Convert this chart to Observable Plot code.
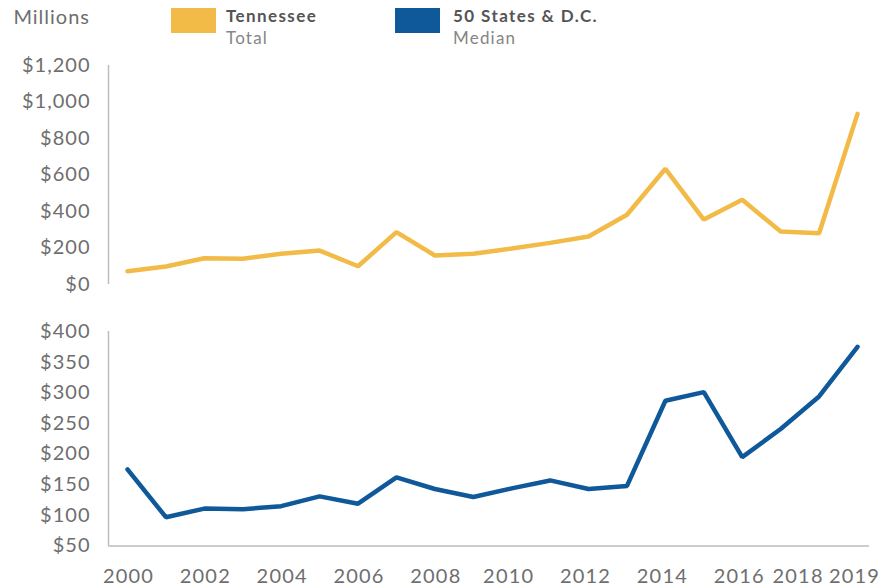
<!DOCTYPE html>
<html><head><meta charset="utf-8">
<script src="https://cdn.jsdelivr.net/npm/d3@7"></script>
<script src="https://cdn.jsdelivr.net/npm/@observablehq/plot@0.6"></script>
<style>
body{margin:0;background:#fff;font-family:Lato,"Open Sans",sans-serif;}
#wrap{width:891px;height:586px;position:relative;overflow:hidden;background:#fff}
#head{position:relative;height:50px}
.unit{position:absolute;right:801px;top:4px;font-size:20px;color:#6e6e6e;letter-spacing:1px;font-weight:400}
.sw{position:absolute;top:8px;width:45px;height:25px}
.lt{position:absolute;top:5px;font-size:17px;line-height:22px;color:#858585;letter-spacing:1.2px;font-weight:400}
.lt b{color:#555;font-weight:700;letter-spacing:1.4px}
svg{display:block}
</style></head><body>
<div id="wrap">
<div id="head"><div class="unit">Millions</div></div>
<div id="top"></div><div id="bot"></div>
</div>
<script>
const years = [2000,2001,2002,2003,2004,2005,2006,2007,2008,2009,2010,2011,2012,2013,2014,2015,2016,2017,2018,2019];
const tennessee = [73,99,144,141,168,186,100,287,159,168,197,228,263,382,634,356,464,290,281,935];
const median = [175,97,111,110,115,131,119,162,143,130,144,157,143,148,287,301,195,241,294,375];
const seriesNames = ["Tennessee","50 States & D.C."];
const seriesSubs = ["Total","Median"];
const seriesColors = ["#F2BA47","#0F5899"];
const topTicks = [0,200,400,600,800,1000,1200];
const botTicks = [50,100,150,200,250,300,350,400];
const xLabelsA = [2000,2002,2004,2006,2008];
const xLabelsB = [2010,2012,2014,2016];
const xLabel2018 = [2018];
const xLabel2019 = [2019];
const unitLabel = "Millions";

// legend
const head = document.getElementById("head");
const swLeft = [171,395], txtLeft = [226,453];
seriesNames.forEach((n,i)=>{
  const s=document.createElement("div"); s.className="sw"; s.style.left=swLeft[i]+"px"; s.style.background=seriesColors[i]; head.appendChild(s);
  const t=document.createElement("div"); t.className="lt"; t.style.left=txtLeft[i]+"px";
  const b=document.createElement("b"); b.textContent=n; t.appendChild(b); t.appendChild(document.createElement("br")); t.appendChild(document.createTextNode(seriesSubs[i]));
  head.appendChild(t);
});
head.querySelector(".unit").textContent = unitLabel;

const tData = years.map((y,i)=>({year:y, value:tennessee[i]}));
const mData = years.map((y,i)=>({year:y, value:median[i]}));
const fmt = d => "$" + d3.format(",")(d);
const textColor = "#6e6e6e";
const font = {fontFamily:"Lato, 'Open Sans', sans-serif", fontSize:"20px", color:textColor, background:"white"};
const xScale = {domain:[2000,2019], insetLeft:19, insetRight:12, axis:null};
const lineStyle = {strokeWidth:4.5, strokeLinejoin:"miter", strokeLinecap:"round"};
const yAxisOpts = {tickSize:0, tickPadding:18, tickFormat:fmt, label:null, fontSize:20, fill:textColor};
const xText = {x:d=>d, frameAnchor:"bottom", dy:30.5, lineAnchor:"middle", fontSize:20, fill:textColor, text:d=>String(d)};

const p1 = Plot.plot({
  width:891, height:250, marginLeft:108, marginRight:22, marginTop:15, marginBottom:16,
  style: font,
  x: xScale,
  y: {domain:[0,1200], axis:null},
  marks:[
    Plot.axisY(topTicks, yAxisOpts),
    Plot.ruleX([2000], {dx:-19, stroke:"#bdbdbd", strokeWidth:1.5}),
    Plot.line(tData, {x:"year", y:"value", stroke:seriesColors[0], ...lineStyle})
  ]
});
document.getElementById("top").appendChild(p1);

const p2 = Plot.plot({
  width:891, height:286, marginLeft:108, marginRight:22, marginTop:31, marginBottom:40.5,
  style: font,
  x: xScale,
  y: {domain:[50,400], axis:null},
  marks:[
    Plot.axisY(botTicks, yAxisOpts),
    Plot.ruleX([2000], {dx:-19, stroke:"#bdbdbd", strokeWidth:1.5}),
    Plot.ruleY([50], {stroke:"#bdbdbd", strokeWidth:1.5}),
    Plot.line(mData, {x:"year", y:"value", stroke:seriesColors[1], ...lineStyle}),
    Plot.text(xLabelsA, {...xText, dx:1}),
    Plot.text(xLabelsB, {...xText, dx:-3}),
    Plot.text(xLabel2018, {...xText, dx:-21}),
    Plot.text(xLabel2019, {...xText, dx:-3})
  ]
});
// letter-spacing to approximate the wider typeface of the original
p1.querySelectorAll("text").forEach(t=>t.setAttribute("letter-spacing","1px"));
p2.querySelectorAll("text").forEach(t=>t.setAttribute("letter-spacing", /^\d{4}$/.test(t.textContent) ? "1.2px" : "1px"));
document.getElementById("bot").appendChild(p2);
</script>
</body></html>
